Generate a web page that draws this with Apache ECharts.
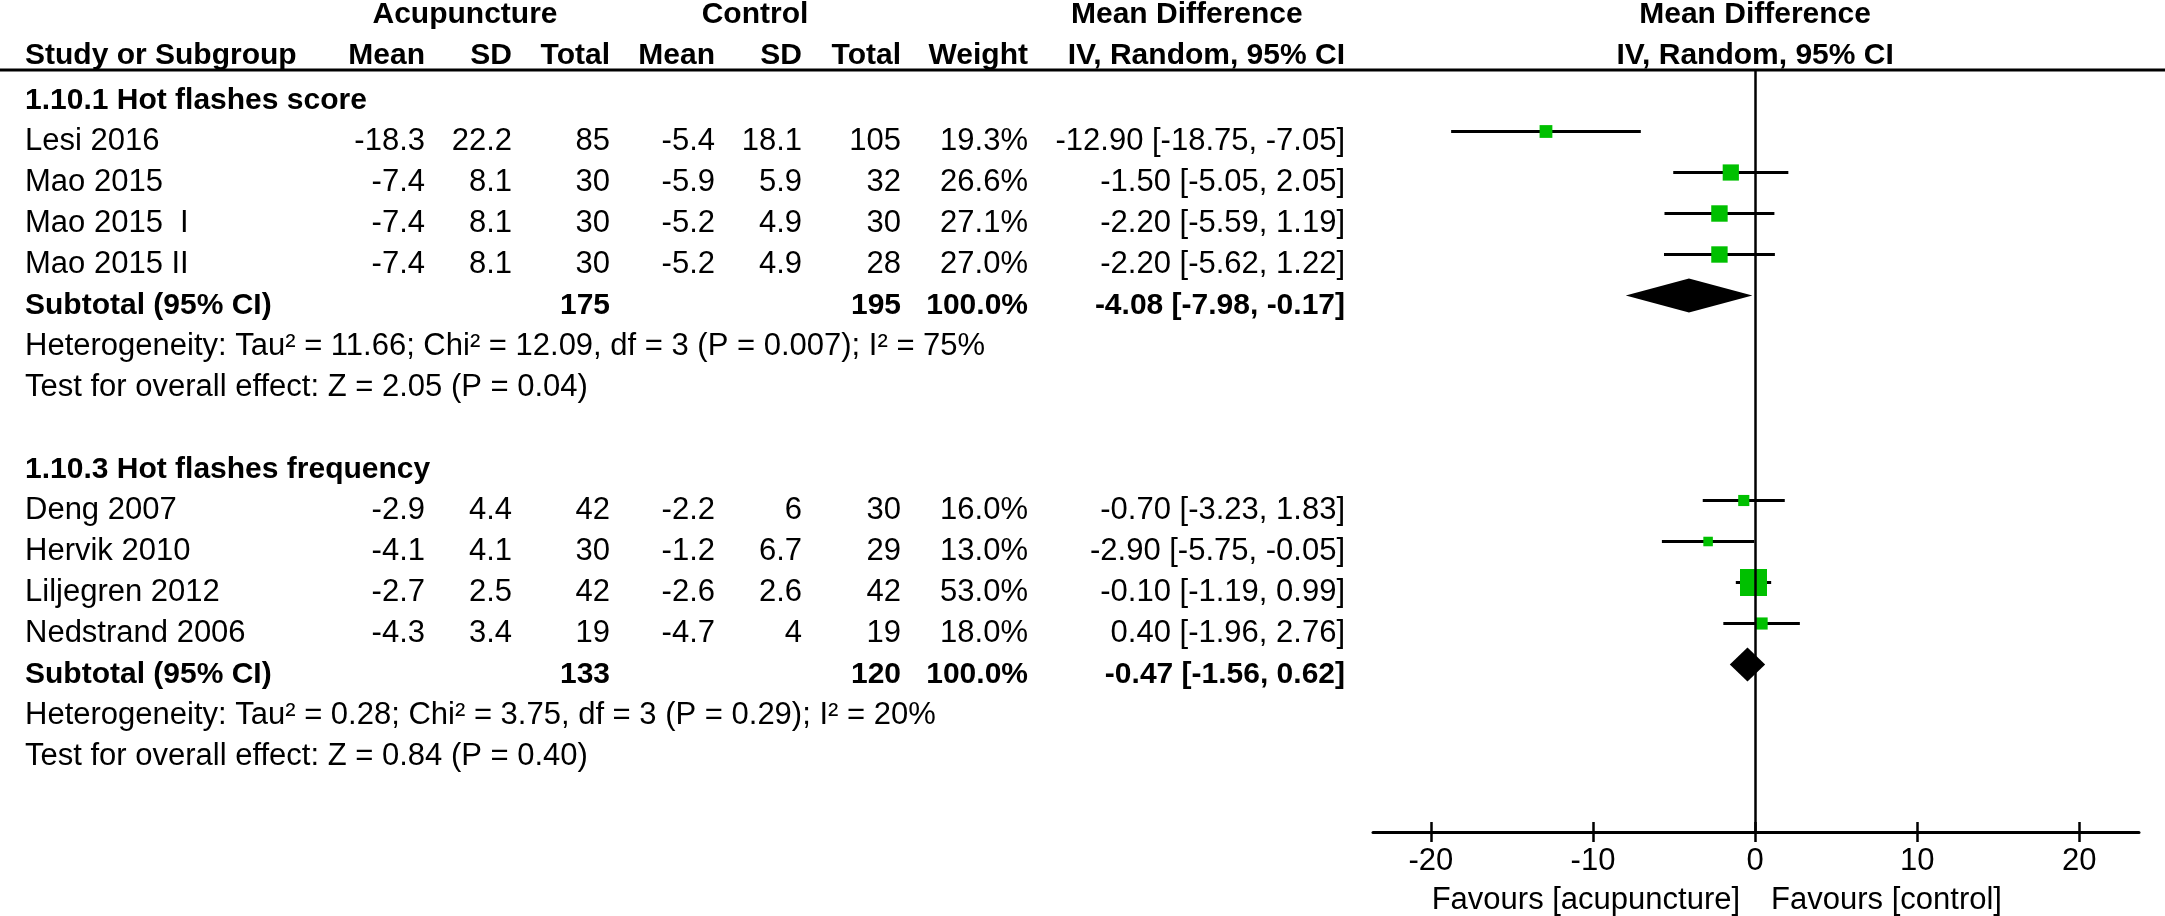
<html>
<head>
    <meta charset="UTF-8">
    <title>Forest plot</title>
    <script src="https://cdn.jsdelivr.net/npm/echarts@6.0.0/dist/echarts.min.js"></script>
    <style>
        body {
            padding: 0;
            margin: 0;
            overflow: hidden;
            background: #fff;
        }
        #chart {
            width: 100vw;
            height: 100vh;
        }
    </style>
</head>
<body>
<div id="chart"></div>

<script>
    // study level data
    const studyNames = ['Lesi 2016', 'Mao 2015', 'Mao 2015  I', 'Mao 2015 II',
        'Deng 2007', 'Hervik 2010', 'Liljegren 2012', 'Nedstrand 2006'];
    const studyGroup = [0, 0, 0, 0, 1, 1, 1, 1];
    const acuMean = [-18.3, -7.4, -7.4, -7.4, -2.9, -4.1, -2.7, -4.3];
    const acuSD = [22.2, 8.1, 8.1, 8.1, 4.4, 4.1, 2.5, 3.4];
    const acuTotal = [85, 30, 30, 30, 42, 30, 42, 19];
    const ctlMean = [-5.4, -5.9, -5.2, -5.2, -2.2, -1.2, -2.6, -4.7];
    const ctlSD = [18.1, 5.9, 4.9, 4.9, 6, 6.7, 2.6, 4];
    const ctlTotal = [105, 32, 30, 28, 30, 29, 42, 19];
    const weights = [19.3, 26.6, 27.1, 27.0, 16.0, 13.0, 53.0, 18.0];
    const md = [-12.90, -1.50, -2.20, -2.20, -0.70, -2.90, -0.10, 0.40];
    const ciLow = [-18.75, -5.05, -5.59, -5.62, -3.23, -5.75, -1.19, -1.96];
    const ciHigh = [-7.05, 2.05, 1.19, 1.22, 1.83, -0.05, 0.99, 2.76];

    // subgroup data
    const groupTitles = ['1.10.1 Hot flashes score', '1.10.3 Hot flashes frequency'];
    const subAcuTotal = [175, 133];
    const subCtlTotal = [195, 120];
    const subWeight = [100.0, 100.0];
    const subMD = [-4.08, -0.47];
    const subLow = [-7.98, -1.56];
    const subHigh = [-0.17, 0.62];
    const heterogeneity = [
        'Heterogeneity: Tau² = 11.66; Chi² = 12.09, df = 3 (P = 0.007); I² = 75%',
        'Heterogeneity: Tau² = 0.28; Chi² = 3.75, df = 3 (P = 0.29); I² = 20%'
    ];
    const overallTest = [
        'Test for overall effect: Z = 2.05 (P = 0.04)',
        'Test for overall effect: Z = 0.84 (P = 0.40)'
    ];
    const xTicks = [-20, -10, 0, 10, 20];
    const favours = ['Favours [acupuncture]', 'Favours [control]'];

    const FONT = "'Liberation Sans', Arial, sans-serif";
    const FS = 31;      // regular text
    const FS_BOLD = 30; // bold text

    // lay the rows out: title, studies, subtotal, heterogeneity, test, blank
    const studyRow = [];
    const groupRows = [];
    let r = 0.5;
    groupTitles.forEach((t, g) => {
        const gr = {title: r};
        r++;
        studyNames.forEach((n, i) => {
            if (studyGroup[i] === g) {
                studyRow[i] = r;
                r++;
            }
        });
        gr.sub = r++;
        gr.het = r++;
        gr.test = r++;
        r++;
        groupRows.push(gr);
    });

    const ec = echarts.init(document.getElementById('chart'));

    const tickAxis = {
        type: 'value',
        min: -23.57,
        max: 23.68,
        position: 'bottom',
        splitLine: {show: false}
    };

    const option = {
        animation: false,
        grid: {left: 1373, right: 26, top: 70, bottom: 84},
        xAxis: [
            Object.assign({}, tickAxis, {
                axisLine: {show: true, onZero: false, lineStyle: {color: '#000', width: 3}},
                axisTick: {show: true, customValues: xTicks, length: 10, lineStyle: {color: '#000', width: 2.5}},
                axisLabel: {customValues: xTicks, margin: 14, fontSize: FS, fontFamily: FONT, color: '#000'}
            }),
            Object.assign({}, tickAxis, {
                axisLine: {show: false, onZero: false},
                axisTick: {show: true, inside: true, customValues: xTicks, length: 10, lineStyle: {color: '#000', width: 2.5}},
                axisLabel: {show: false}
            })
        ],
        yAxis: {type: 'value', inverse: true, min: 0, max: 762 / 41, show: false},
        series: [
            {
                name: 'ci',
                type: 'custom',
                data: studyNames.map((n, i) => [ciLow[i], ciHigh[i], studyRow[i]]),
                encode: {x: [0, 1], y: 2},
                renderItem: function (params, api) {
                    const a = api.coord([api.value(0), api.value(2)]);
                    const b = api.coord([api.value(1), api.value(2)]);
                    return {
                        type: 'line',
                        shape: {x1: a[0], y1: a[1], x2: b[0], y2: b[1]},
                        style: {stroke: '#000', lineWidth: 3}
                    };
                },
                markLine: {
                    silent: true,
                    symbol: ['none', 'none'],
                    label: {show: false},
                    lineStyle: {color: '#000', width: 2.5, type: 'solid'},
                    data: [{xAxis: 0}]
                },
                z: 2
            },
            {
                name: 'md',
                type: 'scatter',
                symbol: 'rect',
                data: studyNames.map((n, i) => [md[i], studyRow[i], weights[i]]),
                symbolSize: v => 1.43 * Math.pow(v[2], 0.74),
                itemStyle: {color: '#00c000', opacity: 1},
                z: 3
            },
            {
                name: 'subtotal',
                type: 'custom',
                data: groupTitles.map((t, g) => [subLow[g], subMD[g], subHigh[g], groupRows[g].sub]),
                encode: {x: [0, 1, 2], y: 3},
                renderItem: function (params, api) {
                    const row = api.value(3);
                    const lo = api.coord([api.value(0), row]);
                    const mid = api.coord([api.value(1), row]);
                    const hi = api.coord([api.value(2), row]);
                    return {
                        type: 'polygon',
                        shape: {points: [lo, [mid[0], mid[1] - 17], hi, [mid[0], mid[1] + 17]]},
                        style: {fill: '#000'}
                    };
                },
                z: 3
            }
        ]
    };
    ec.setOption(option);

    // table text, placed on the same row scale as the plot
    const yOf = row => ec.convertToPixel({yAxisIndex: 0}, row) + 10;
    const yHead = row => ec.convertToPixel({yAxisIndex: 0}, row) + 6;
    const x0 = ec.convertToPixel({xAxisIndex: 0}, 0);
    const texts = [];
    function txt(text, x, y, align, bold) {
        texts.push({
            type: 'text',
            x: x,
            y: y,
            silent: true,
            style: {
                text: String(text),
                fontSize: bold ? FS_BOLD : FS,
                fontFamily: FONT,
                fontWeight: bold ? 'bold' : 'normal',
                fill: '#000',
                align: align,
                verticalAlign: 'middle'
            }
        });
    }

    const COL = {name: 25, acuMean: 425, acuSD: 512, acuTotal: 610, ctlMean: 715, ctlSD: 802, ctlTotal: 901, weight: 1028, md: 1345, mdHead: 1071};

    // headers
    txt('Acupuncture', 465, yHead(-1.5), 'center', true);
    txt('Control', 755, yHead(-1.5), 'center', true);
    txt('Mean Difference', COL.mdHead, yHead(-1.5), 'left', true);
    txt('Mean Difference', x0, yHead(-1.5), 'center', true);
    txt('Study or Subgroup', COL.name, yHead(-0.5), 'left', true);
    txt('Mean', COL.acuMean, yHead(-0.5), 'right', true);
    txt('SD', COL.acuSD, yHead(-0.5), 'right', true);
    txt('Total', COL.acuTotal, yHead(-0.5), 'right', true);
    txt('Mean', COL.ctlMean, yHead(-0.5), 'right', true);
    txt('SD', COL.ctlSD, yHead(-0.5), 'right', true);
    txt('Total', COL.ctlTotal, yHead(-0.5), 'right', true);
    txt('Weight', COL.weight, yHead(-0.5), 'right', true);
    txt('IV, Random, 95% CI', COL.md, yHead(-0.5), 'right', true);
    txt('IV, Random, 95% CI', x0, yHead(-0.5), 'center', true);

    studyNames.forEach((n, i) => {
        const y = yOf(studyRow[i]);
        txt(n, COL.name, y, 'left', false);
        txt(acuMean[i], COL.acuMean, y, 'right', false);
        txt(acuSD[i], COL.acuSD, y, 'right', false);
        txt(acuTotal[i], COL.acuTotal, y, 'right', false);
        txt(ctlMean[i], COL.ctlMean, y, 'right', false);
        txt(ctlSD[i], COL.ctlSD, y, 'right', false);
        txt(ctlTotal[i], COL.ctlTotal, y, 'right', false);
        txt(weights[i].toFixed(1) + '%', COL.weight, y, 'right', false);
        txt(md[i].toFixed(2) + ' [' + ciLow[i].toFixed(2) + ', ' + ciHigh[i].toFixed(2) + ']', COL.md, y, 'right', false);
    });

    groupTitles.forEach((t, g) => {
        const gr = groupRows[g];
        txt(t, COL.name, yOf(gr.title), 'left', true);
        const y = yOf(gr.sub);
        txt('Subtotal (95% CI)', COL.name, y, 'left', true);
        txt(subAcuTotal[g], COL.acuTotal, y, 'right', true);
        txt(subCtlTotal[g], COL.ctlTotal, y, 'right', true);
        txt(subWeight[g].toFixed(1) + '%', COL.weight, y, 'right', true);
        txt(subMD[g].toFixed(2) + ' [' + subLow[g].toFixed(2) + ', ' + subHigh[g].toFixed(2) + ']', COL.md, y, 'right', true);
        txt(heterogeneity[g], COL.name, yOf(gr.het), 'left', false);
        txt(overallTest[g], COL.name, yOf(gr.test), 'left', false);
    });

    txt(favours[0], x0 - 15, 900, 'right', false);
    txt(favours[1], x0 + 16, 900, 'left', false);

    // rule under the column headers
    const yRule = ec.convertToPixel({yAxisIndex: 0}, 0);
    texts.push({
        type: 'line',
        silent: true,
        shape: {x1: 0, y1: yRule, x2: 2165, y2: yRule},
        style: {stroke: '#000', lineWidth: 3}
    });

    ec.setOption({graphic: texts});
</script>
</body>
</html>
